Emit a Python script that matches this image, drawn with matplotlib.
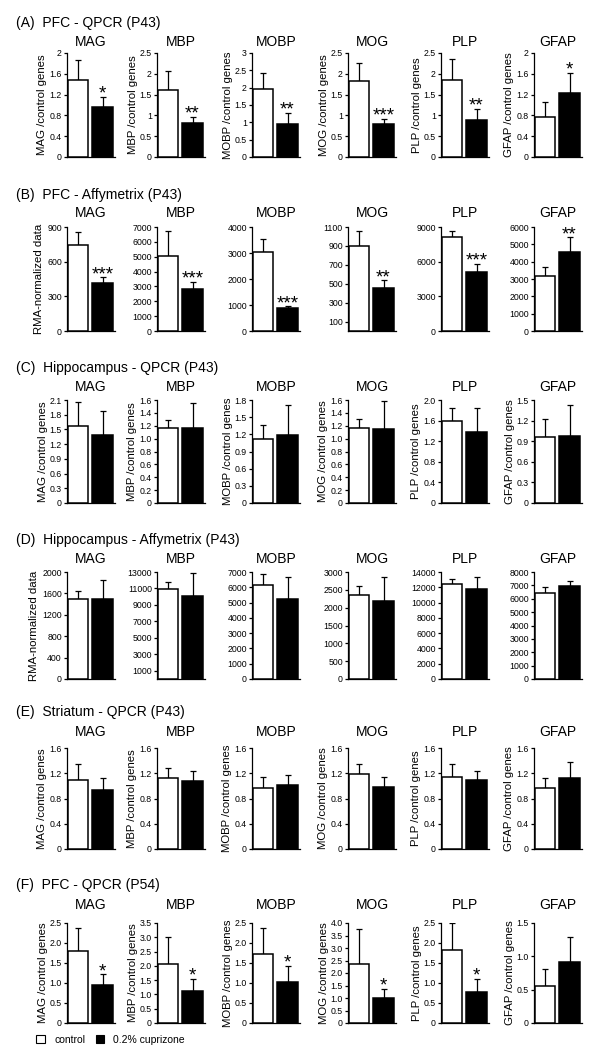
import matplotlib
matplotlib.use("Agg")
import matplotlib.pyplot as plt
from matplotlib.patches import Patch

plt.rcParams['font.family'] = ['Liberation Sans', 'DejaVu Sans']

genes = ["MAG", "MBP", "MOBP", "MOG", "PLP", "GFAP"]
row_titles = ["(A)  PFC - QPCR (P43)", "(B)  PFC - Affymetrix (P43)",
              "(C)  Hippocampus - QPCR (P43)", "(D)  Hippocampus - Affymetrix (P43)",
              "(E)  Striatum - QPCR (P43)", "(F)  PFC - QPCR (P54)"]
legend_labels = ["control", "0.2% cuprizone"]

# Row A: PFC QPCR P43
a_ctrl = [1.48, 1.60, 1.95, 1.83, 1.85, 0.77]
a_ctrl_err = [0.39, 0.47, 0.47, 0.42, 0.51, 0.29]
a_cup = [0.96, 0.82, 0.95, 0.80, 0.88, 1.23]
a_cup_err = [0.20, 0.15, 0.33, 0.12, 0.28, 0.39]
a_stars = ["*", "**", "**", "***", "**", "*"]
a_ticks = [[0, 0.4, 0.8, 1.2, 1.6, 2], [0, 0.5, 1, 1.5, 2, 2.5], [0, 0.5, 1, 1.5, 2, 2.5, 3],
           [0, 0.5, 1, 1.5, 2, 2.5], [0, 0.5, 1, 1.5, 2, 2.5], [0, 0.4, 0.8, 1.2, 1.6, 2]]

# Row B: PFC Affymetrix P43
b_ctrl = [740, 5050, 3030, 900, 8150, 3200]
b_ctrl_err = [120, 1700, 520, 160, 500, 500]
b_cup = [415, 2800, 900, 455, 5100, 4550]
b_cup_err = [50, 500, 50, 80, 700, 850]
b_stars = ["***", "***", "***", "**", "***", "**"]
b_ticks = [[0, 300, 600, 900], [0, 1000, 2000, 3000, 4000, 5000, 6000, 7000],
           [0, 1000, 2000, 3000, 4000], [100, 300, 500, 700, 900, 1100],
           [0, 3000, 6000, 9000], [0, 1000, 2000, 3000, 4000, 5000, 6000]]

# Row C: Hippocampus QPCR P43
c_ctrl = [1.57, 1.16, 1.11, 1.17, 1.60, 0.96]
c_ctrl_err = [0.49, 0.13, 0.26, 0.14, 0.25, 0.26]
c_cup = [1.39, 1.17, 1.19, 1.15, 1.37, 0.97]
c_cup_err = [0.49, 0.38, 0.53, 0.43, 0.47, 0.46]
c_stars = ["", "", "", "", "", ""]
c_ticks = [[0, 0.3, 0.6, 0.9, 1.2, 1.5, 1.8, 2.1], [0, 0.2, 0.4, 0.6, 0.8, 1.0, 1.2, 1.4, 1.6],
           [0, 0.3, 0.6, 0.9, 1.2, 1.5, 1.8], [0, 0.2, 0.4, 0.6, 0.8, 1.0, 1.2, 1.4, 1.6],
           [0, 0.4, 0.8, 1.2, 1.6, 2.0], [0, 0.3, 0.6, 0.9, 1.2, 1.5]]

# Row D: Hippocampus Affymetrix P43
d_ctrl = [1490, 10900, 6150, 2350, 12400, 6450]
d_ctrl_err = [150, 900, 750, 270, 700, 400]
d_cup = [1490, 10050, 5250, 2200, 11800, 6950]
d_cup_err = [360, 2850, 1450, 670, 1600, 400]
d_stars = ["", "", "", "", "", ""]
d_ticks = [[0, 400, 800, 1200, 1600, 2000], [1000, 3000, 5000, 7000, 9000, 11000, 13000],
           [0, 1000, 2000, 3000, 4000, 5000, 6000, 7000], [0, 500, 1000, 1500, 2000, 2500, 3000],
           [0, 2000, 4000, 6000, 8000, 10000, 12000, 14000],
           [0, 1000, 2000, 3000, 4000, 5000, 6000, 7000, 8000]]

# Row E: Striatum QPCR P43
e_ctrl = [1.09, 1.12, 0.97, 1.19, 1.14, 0.96]
e_ctrl_err = [0.26, 0.16, 0.17, 0.16, 0.20, 0.17]
e_cup = [0.94, 1.08, 1.01, 0.98, 1.09, 1.13]
e_cup_err = [0.19, 0.16, 0.17, 0.16, 0.15, 0.25]
e_stars = ["", "", "", "", "", ""]
e_ticks = [[0, 0.4, 0.8, 1.2, 1.6]] * 6

# Row F: PFC QPCR P54
f_ctrl = [1.80, 2.05, 1.73, 2.38, 1.82, 0.56]
f_ctrl_err = [0.58, 0.95, 0.65, 1.37, 0.68, 0.25]
f_cup = [0.95, 1.13, 1.03, 1.00, 0.78, 0.92]
f_cup_err = [0.27, 0.42, 0.40, 0.37, 0.32, 0.37]
f_stars = ["*", "*", "*", "*", "*", ""]
f_ticks = [[0, 0.5, 1.0, 1.5, 2.0, 2.5], [0, 0.5, 1.0, 1.5, 2.0, 2.5, 3.0, 3.5],
           [0, 0.5, 1.0, 1.5, 2.0, 2.5], [0, 0.5, 1.0, 1.5, 2.0, 2.5, 3.0, 3.5, 4.0],
           [0, 0.5, 1.0, 1.5, 2.0, 2.5], [0, 0.5, 1.0, 1.5]]

rows = [
    (a_ctrl, a_ctrl_err, a_cup, a_cup_err, a_stars, a_ticks, "qpcr_g"),
    (b_ctrl, b_ctrl_err, b_cup, b_cup_err, b_stars, b_ticks, "affy"),
    (c_ctrl, c_ctrl_err, c_cup, c_cup_err, c_stars, c_ticks, "qpcr_f"),
    (d_ctrl, d_ctrl_err, d_cup, d_cup_err, d_stars, d_ticks, "affy"),
    (e_ctrl, e_ctrl_err, e_cup, e_cup_err, e_stars, e_ticks, "qpcr_f"),
    (f_ctrl, f_ctrl_err, f_cup, f_cup_err, f_stars, f_ticks, "qpcr_f"),
]

W, H = 596, 1050
fig = plt.figure(figsize=(W / 100, H / 100), dpi=100)

col_left = [67, 157, 252, 348, 441, 534]
ax_w = 48
row_top = [53, 227, 400, 572, 748, 923]
row_bot = [157, 331, 503, 679, 849, 1023]
header_y = [23, 195, 368, 540, 712, 885]
title_y = [42, 213, 387, 559, 732, 905]


def fmt(v, kind):
    if kind == "affy" or kind == "qpcr_g":
        return "{:g}".format(v)
    return "0" if v == 0 else "{:.1f}".format(v)


LW = 0.9
for r, (ctrl, ce, cup, cue, stars, ticks, kind) in enumerate(rows):
    fig.text(16 / W, 1 - header_y[r] / H, row_titles[r], fontsize=10, ha="left", va="center")
    for c, g in enumerate(genes):
        ax = fig.add_axes([col_left[c] / W, 1 - row_bot[r] / H, ax_w / W,
                           (row_bot[r] - row_top[r]) / H])
        ax.bar([0.23], [ctrl[c]], width=0.42, color="white", edgecolor="black", linewidth=LW + 0.2, zorder=3)
        ax.bar([0.74], [cup[c]], width=0.44, color="black", edgecolor="black", linewidth=LW + 0.2, zorder=3)
        ax.errorbar([0.23], [ctrl[c]], yerr=[[0], [ce[c]]], fmt="none", ecolor="black",
                    elinewidth=LW, capsize=2.0, capthick=LW, zorder=2)
        ax.errorbar([0.74], [cup[c]], yerr=[[0], [cue[c]]], fmt="none", ecolor="black",
                    elinewidth=LW, capsize=2.0, capthick=LW, zorder=2)
        if stars[c]:
            ax.annotate(stars[c], (0.74, cup[c] + cue[c]), xytext=(0, -1.3), textcoords="offset points",
                        ha="center", va="baseline", fontsize=13.5)
        ymax = max(ticks[c])
        ax.set_xlim(0, 1.0)
        ax.set_ylim(0, ymax)
        ax.set_yticks(ticks[c])
        ax.set_yticklabels([fmt(t, kind) for t in ticks[c]])
        ax.set_xticks([])
        for s in ["top", "right"]:
            ax.spines[s].set_visible(False)
        for s in ["left", "bottom"]:
            ax.spines[s].set_linewidth(LW)
        ax.tick_params(axis="y", direction="out", length=2.2, width=LW, pad=1.5, labelsize=6.3)
        ax.set_facecolor("none")
        fig.text((col_left[c] + ax_w / 2) / W, 1 - title_y[r] / H, g, fontsize=10, ha="center", va="center")
        if kind == "affy":
            if c == 0:
                ax.set_ylabel("RMA-normalized data", fontsize=8.2, labelpad=2)
        else:
            ax.set_ylabel(g + " /control genes", fontsize=8.2, labelpad=1.5)

handles = [Patch(facecolor="white", edgecolor="black", linewidth=0.8),
           Patch(facecolor="black", edgecolor="black", linewidth=0.8)]
fig.legend(handles, legend_labels, loc="center left", bbox_to_anchor=(27 / W, 1 - 1040 / H),
           ncol=2, frameon=False, fontsize=7.5, handlelength=0.8, handleheight=0.8,
           columnspacing=1.0, handletextpad=0.9)

fig.savefig("out.png", dpi=100, facecolor="white")
